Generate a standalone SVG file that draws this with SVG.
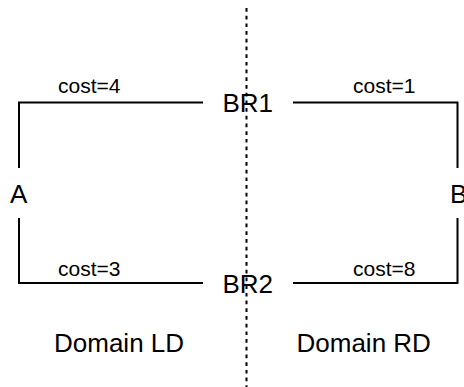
<svg xmlns="http://www.w3.org/2000/svg" width="464" height="387" viewBox="0 0 464 387">
<style>
.big{font-family:"Liberation Sans",Arial,sans-serif;font-size:26px;fill:#000}
.cost{font-family:"Liberation Sans",Arial,sans-serif;font-size:21px;fill:#000}
.ln{fill:none;stroke:#000;stroke-width:2}
.div{fill:none;stroke:#000;stroke-width:2;stroke-dasharray:3.7 4}
</style>
<rect width="464" height="387" fill="#fff"/>
<g id="divider"><line class="div" x1="246.5" y1="8" x2="246.5" y2="387"/></g>
<g id="connectors">
<polyline class="ln" points="19,168 19,102.5 203,102.5"/>
<polyline class="ln" points="293,102.5 457.5,102.5 457.5,168"/>
<polyline class="ln" points="19,218 19,283 203,283"/>
<polyline class="ln" points="293,283 457.5,283 457.5,218"/>
<text class="cost" x="58" y="93">cost=4</text>
<text class="cost" x="353" y="93">cost=1</text>
<text class="cost" x="58" y="275.5">cost=3</text>
<text class="cost" x="353" y="275.5">cost=8</text>
</g>
<g id="node-A"><text class="big" x="10" y="203">A</text></g>
<g id="node-B"><text class="big" x="450" y="203">B</text></g>
<g id="node-BR1"><text class="big" x="222.5" y="112">BR1</text></g>
<g id="node-BR2"><text class="big" x="222.5" y="292.5">BR2</text></g>
<g id="label-LD"><text class="big" x="54" y="352">Domain LD</text></g>
<g id="label-RD"><text class="big" x="296.5" y="352">Domain RD</text></g>
</svg>
